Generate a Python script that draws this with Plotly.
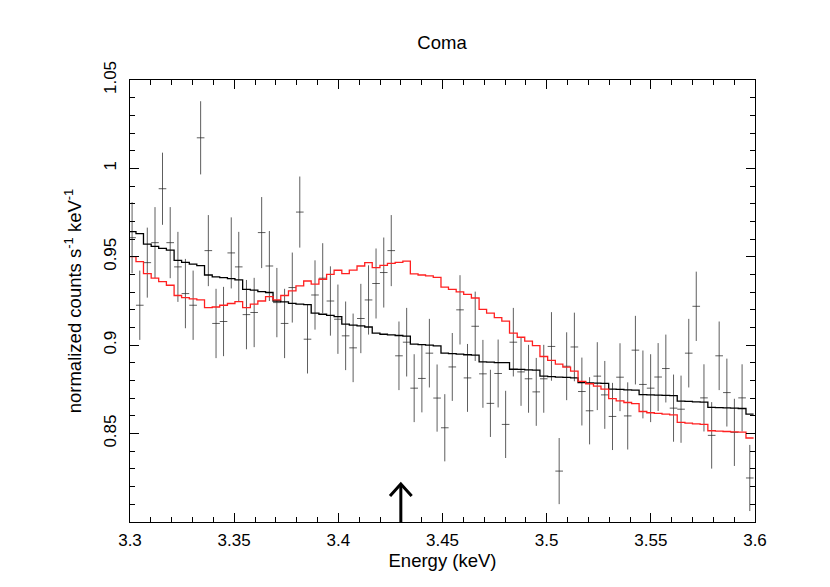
"""
Coma cluster spectrum around 3.3-3.6 keV: binned data with two step models.
"""
import plotly.graph_objects as go

# bin centres (keV)
energy = [
    3.3010, 3.3047, 3.3083, 3.3120, 3.3156, 3.3193, 3.3230, 3.3266, 3.3303, 3.3339,
    3.3376, 3.3413, 3.3449, 3.3486, 3.3522, 3.3559, 3.3596, 3.3632, 3.3669, 3.3705,
    3.3742, 3.3779, 3.3815, 3.3852, 3.3888, 3.3925, 3.3962, 3.3998, 3.4035, 3.4071,
    3.4108, 3.4145, 3.4181, 3.4218, 3.4254, 3.4291, 3.4328, 3.4364, 3.4401, 3.4437,
    3.4474, 3.4511, 3.4547, 3.4584, 3.4620, 3.4657, 3.4694, 3.4730, 3.4767, 3.4803,
    3.4840, 3.4877, 3.4913, 3.4950, 3.4986, 3.5023, 3.5060, 3.5096, 3.5133, 3.5169,
    3.5206, 3.5243, 3.5279, 3.5316, 3.5352, 3.5389, 3.5426, 3.5462, 3.5499, 3.5535,
    3.5572, 3.5609, 3.5645, 3.5682, 3.5718, 3.5755, 3.5792, 3.5828, 3.5865, 3.5901,
    3.5938, 3.5975,
]
bin_halfwidth = 0.00183

# observed rate (normalized counts s^-1 keV^-1) and 1-sigma errors
counts = [
    0.9608, 0.9226, 0.9467, 0.9580, 0.9885, 0.9580, 0.9443, 0.9292, 0.9226, 1.0173,
    0.9535, 0.9123, 0.9134, 0.9522, 0.9443, 0.9173, 0.9185, 0.9637, 0.9448, 0.9241,
    0.9123, 0.9326, 0.9753, 0.9034, 0.9284, 0.9379, 0.9250, 0.9147, 0.9053, 0.8985,
    0.9151, 0.9256, 0.9349, 0.9411, 0.9535, 0.8940, 0.9017, 0.8757, 0.8812, 0.8955,
    0.8701, 0.8533, 0.8877, 0.9200, 0.8815, 0.9107, 0.8838, 0.8671, 0.8840, 0.8552,
    0.9017, 0.8849, 0.8810, 0.8736, 0.8810, 0.8993, 0.8288, 0.8881, 0.8990, 0.8738,
    0.8629, 0.8825, 0.8719, 0.8597, 0.8819, 0.8600, 0.8972, 0.8778, 0.8757, 0.8820,
    0.8868, 0.8644, 0.8638, 0.8955, 0.9220, 0.8702, 0.8490, 0.8940, 0.8732, 0.8507,
    0.8702, 0.8249,
]
count_err = [
    0.0201, 0.0196, 0.0198, 0.0201, 0.0204, 0.0201, 0.0198, 0.0196, 0.0196, 0.0207,
    0.0201, 0.0196, 0.0196, 0.0201, 0.0198, 0.0196, 0.0196, 0.0201, 0.0198, 0.0196,
    0.0196, 0.0198, 0.0201, 0.0194, 0.0196, 0.0198, 0.0196, 0.0196, 0.0194, 0.0194,
    0.0196, 0.0196, 0.0198, 0.0198, 0.0201, 0.0194, 0.0194, 0.0192, 0.0192, 0.0194,
    0.0190, 0.0190, 0.0192, 0.0196, 0.0192, 0.0196, 0.0192, 0.0190, 0.0192, 0.0190,
    0.0194, 0.0192, 0.0192, 0.0192, 0.0192, 0.0194, 0.0187, 0.0192, 0.0194, 0.0192,
    0.0190, 0.0192, 0.0192, 0.0190, 0.0192, 0.0190, 0.0194, 0.0192, 0.0192, 0.0192,
    0.0192, 0.0190, 0.0190, 0.0194, 0.0196, 0.0190, 0.0188, 0.0194, 0.0192, 0.0190,
    0.0190, 0.0187,
]

# continuum-only model (black)
model_black = [
    0.9642, 0.9631, 0.9572, 0.9559, 0.9548, 0.9538, 0.9480, 0.9469, 0.9459, 0.9450,
    0.9397, 0.9387, 0.9382, 0.9377, 0.9369, 0.9316, 0.9311, 0.9303, 0.9298, 0.9250,
    0.9245, 0.9237, 0.9232, 0.9229, 0.9181, 0.9175, 0.9169, 0.9162, 0.9119, 0.9113,
    0.9109, 0.9103, 0.9068, 0.9062, 0.9058, 0.9055, 0.9051, 0.9006, 0.9003, 0.9000,
    0.8996, 0.8955, 0.8952, 0.8949, 0.8946, 0.8944, 0.8906, 0.8904, 0.8902, 0.8901,
    0.8864, 0.8863, 0.8860, 0.8859, 0.8825, 0.8822, 0.8819, 0.8818, 0.8815, 0.8789,
    0.8787, 0.8785, 0.8784, 0.8751, 0.8750, 0.8747, 0.8746, 0.8720, 0.8719, 0.8718,
    0.8716, 0.8715, 0.8684, 0.8682, 0.8680, 0.8678, 0.8648, 0.8647, 0.8646, 0.8644,
    0.8642, 0.8610,
]

# model with the extra line (red)
model_red = [
    0.9501, 0.9473, 0.9405, 0.9379, 0.9360, 0.9339, 0.9281, 0.9269, 0.9262, 0.9256,
    0.9213, 0.9216, 0.9226, 0.9236, 0.9247, 0.9213, 0.9232, 0.9250, 0.9275, 0.9256,
    0.9281, 0.9307, 0.9335, 0.9363, 0.9345, 0.9373, 0.9401, 0.9424, 0.9405, 0.9425,
    0.9448, 0.9467, 0.9439, 0.9452, 0.9463, 0.9469, 0.9475, 0.9403, 0.9397, 0.9392,
    0.9384, 0.9329, 0.9316, 0.9302, 0.9288, 0.9267, 0.9203, 0.9181, 0.9156, 0.9136,
    0.9068, 0.9045, 0.9023, 0.8998, 0.8936, 0.8914, 0.8893, 0.8876, 0.8853, 0.8795,
    0.8782, 0.8768, 0.8751, 0.8698, 0.8685, 0.8676, 0.8669, 0.8625, 0.8618, 0.8614,
    0.8610, 0.8606, 0.8563, 0.8559, 0.8555, 0.8552, 0.8516, 0.8514, 0.8512, 0.8510,
    0.8508, 0.8475,
]

arrow_energy = 3.43

x_ticks = [3.3, 3.35, 3.4, 3.45, 3.5, 3.55, 3.6]
x_ticktext = ["3.3", "3.35", "3.4", "3.45", "3.5", "3.55", "3.6"]
y_ticks = [0.85, 0.9, 0.95, 1.0, 1.05]
y_ticktext = ["0.85", "0.9", "0.95", "1", "1.05"]

FONT = "Liberation Sans, Arial, Helvetica, sans-serif"

# step outlines: left bin edges plus the closing right edge
edges = [e - bin_halfwidth for e in energy] + [energy[-1] + bin_halfwidth]

fig = go.Figure()

fig.add_trace(go.Scatter(
    x=energy, y=counts, mode="markers",
    marker=dict(size=0.1, color="rgba(0,0,0,0)"),
    error_y=dict(type="data", array=count_err, thickness=1, width=0,
                 color="rgba(40,40,40,0.75)"),
    error_x=dict(type="constant", value=bin_halfwidth, thickness=1, width=0,
                 color="rgba(40,40,40,0.75)"),
    hoverinfo="skip", showlegend=False,
))

fig.add_trace(go.Scatter(
    x=edges, y=model_black + [model_black[-1]], mode="lines",
    line=dict(color="black", width=1.3, shape="hv"),
    hoverinfo="skip", showlegend=False,
))

fig.add_trace(go.Scatter(
    x=edges, y=model_red + [model_red[-1]], mode="lines",
    line=dict(color="#ff2020", width=1.3, shape="hv"),
    hoverinfo="skip", showlegend=False,
))

# upward arrow marking the line energy
arrow_tip = 0.8215
head_dx, head_dy = 0.0052, 0.0068
fig.add_shape(type="line", xref="x", yref="y",
              x0=arrow_energy, x1=arrow_energy, y0=0.8, y1=arrow_tip,
              line=dict(color="black", width=3))
fig.add_shape(type="path", xref="x", yref="y",
              path=(f"M {arrow_energy - head_dx},{arrow_tip - head_dy} "
                    f"L {arrow_energy},{arrow_tip} "
                    f"L {arrow_energy + head_dx},{arrow_tip - head_dy}"),
              line=dict(color="black", width=3))

axis_common = dict(
    showline=True, linecolor="black", linewidth=1, mirror="allticks",
    ticks="inside", ticklen=9, tickcolor="black", tickwidth=1,
    showgrid=False, zeroline=False,
    tickfont=dict(family=FONT, size=17, color="black"),
)

fig.update_xaxes(
    range=[3.3, 3.6], tickvals=x_ticks, ticktext=x_ticktext,
    ticklabelstandoff=3,
    minor=dict(dtick=0.01, tick0=3.3, ticks="inside", ticklen=5,
               tickcolor="black", showgrid=False),
    title=dict(text="Energy (keV)", font=dict(family=FONT, size=18.5, color="black"),
               standoff=4),
    **axis_common,
)
fig.update_yaxes(
    range=[0.8, 1.05], tickvals=y_ticks, ticktext=y_ticktext, tickangle=-90,
    ticklabelstandoff=6,
    minor=dict(dtick=0.01, tick0=0.8, ticks="inside", ticklen=5,
               tickcolor="black", showgrid=False),
    title=dict(text="normalized counts s<sup>-1</sup> keV<sup>-1</sup>",
               font=dict(family=FONT, size=18.5, color="black"), standoff=14),
    **axis_common,
)

# the page adds an 8px body margin, so the figure is shrunk by that amount
fig.update_layout(
    width=822, height=579,
    margin=dict(l=122, r=75, t=72, b=65),
    paper_bgcolor="white", plot_bgcolor="white",
    title=dict(text="Coma", x=0.528, xanchor="center", y=0.94, yanchor="middle",
               font=dict(family=FONT, size=18.5, color="black")),
    font=dict(family=FONT, color="black"),
)

fig.write_html("out.html")
